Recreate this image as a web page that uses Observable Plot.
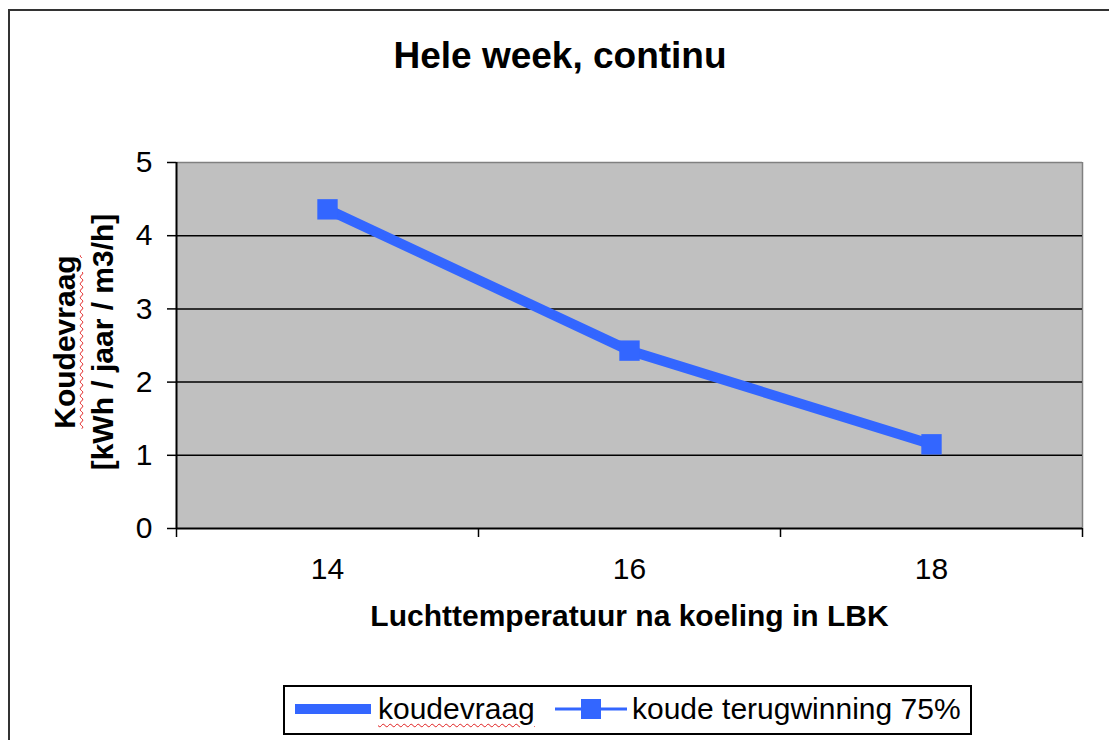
<!DOCTYPE html>
<html>
<head>
<meta charset="utf-8">
<script src="https://cdn.jsdelivr.net/npm/d3@7"></script>
<script src="https://cdn.jsdelivr.net/npm/@observablehq/plot@0.6"></script>
<style>
  html, body { margin: 0; padding: 0; background: #fff; }
  body { width: 1109px; height: 740px; position: relative; overflow: hidden; font-family: "Liberation Sans", Arial, sans-serif; }
  #outer { position: absolute; left: 8px; top: 9px; width: 1300px; height: 900px; border-top: 2px solid #333; border-left: 2px solid #333; }
  #chart { position: absolute; left: 0; top: 0; }
  #title { position: absolute; left: 0; width: 1120px; top: 37px; text-align: center; font-weight: bold; font-size: 37px; line-height: 1; }
  #ytitle { position: absolute; left: 84px; top: 342px; transform: translate(-50%, -50%) rotate(-90deg); text-align: center; font-weight: bold; font-size: 30px; line-height: 38px; white-space: nowrap; }
  .squig { text-decoration: underline wavy #e02020; text-decoration-thickness: 1px; text-underline-offset: 4px; }
  #legend { position: absolute; left: 283px; top: 685px; width: 685px; height: 46px; border: 2px solid #000; background: #fff; }
  .lt { position: absolute; font-size: 30px; line-height: 1; top: 7px; white-space: nowrap; }
  .sw { position: absolute; top: 0; }
</style>
</head>
<body>
<div id="outer"></div>
<div id="chart"></div>
<div id="title"></div>
<div id="ytitle"></div>
<div id="legend"></div>
<script>
// ---- data ----
const titleText = "Hele week, continu";
const xLabel = "Luchttemperatuur na koeling in LBK";
const yLabelLines = ["Koudevraag", "[kWh / jaar / m3/h]"];
const temps = [14, 16, 18];
const koudevraag = [4.36, 2.43, 1.15];
const terugwinning75 = [4.36, 2.43, 1.15];
const seriesNames = ["koudevraag", "koude terugwinning 75%"];
const yTicks = [0, 1, 2, 3, 4, 5];
const gridValues = [1, 2, 3, 4];
const xDomain = [13, 19];
const xBoundaries = [13, 15, 17, 19];

const blue = "#3366ff";
const rowsA = temps.map((t, i) => ({t, v: koudevraag[i]}));
const rowsB = temps.map((t, i) => ({t, v: terugwinning75[i]}));

const chart = Plot.plot({
  width: 1109,
  height: 740,
  marginTop: 162,
  marginBottom: 212,
  marginLeft: 176,
  marginRight: 27,
  style: {fontFamily: "'Liberation Sans', Arial, sans-serif", fontSize: "30px", color: "#000", background: "transparent"},
  x: {domain: xDomain},
  y: {domain: [0, 5]},
  marks: [
    Plot.frame({fill: "#c0c0c0", stroke: null}),
    Plot.ruleY([5], {stroke: "#808080", strokeWidth: 1.5}),
    Plot.ruleX([19], {stroke: "#808080", strokeWidth: 1.5}),
    Plot.ruleY(gridValues, {stroke: "#000", strokeWidth: 1.5}),
    Plot.axisY({ticks: yTicks, tickSize: 9, tickPadding: 15, fontSize: 30, label: null, stroke: "#000", strokeWidth: 1.5, tickFormat: d => String(d)}),
    Plot.axisX({ticks: xBoundaries, tickSize: 9, tickFormat: () => "", label: null, stroke: "#000", strokeWidth: 1.5}),
    Plot.axisX({ticks: temps, tickSize: 0, tickPadding: 29, fontSize: 30, label: null, tickFormat: d => String(d)}),
    Plot.ruleX([13], {stroke: "#000", strokeWidth: 2}),
    Plot.ruleY([0], {stroke: "#000", strokeWidth: 2}),
    Plot.line(rowsA, {x: "t", y: "v", stroke: blue, strokeWidth: 10, strokeLinejoin: "round"}),
    Plot.line(rowsB, {x: "t", y: "v", stroke: blue, strokeWidth: 3}),
    Plot.dot(rowsB, {x: "t", y: "v", symbol: "square", r: 11.5, fill: blue, stroke: null}),
    Plot.text([xLabel], {frameAnchor: "bottom", dy: 97, fontSize: 30, fontWeight: "bold", text: d => d})
  ]
});
document.getElementById("chart").appendChild(chart);

document.getElementById("title").textContent = titleText;
document.getElementById("ytitle").innerHTML =
  `<span class="squig">${yLabelLines[0]}</span><br>${yLabelLines[1]}`;

const lg = document.getElementById("legend");
lg.innerHTML = `
  <svg class="sw" style="left:10px" width="76" height="46"><line x1="0" x2="76" y1="22" y2="22" stroke="${blue}" stroke-width="10"/></svg>
  <div class="lt" style="left:93px"><span class="squig">${seriesNames[0]}</span></div>
  <svg class="sw" style="left:270px" width="72" height="46"><line x1="0" x2="72" y1="22" y2="22" stroke="${blue}" stroke-width="3"/><rect x="26" y="12" width="20" height="20" fill="${blue}"/></svg>
  <div class="lt" style="left:347px">${seriesNames[1]}</div>`;
</script>
</body>
</html>
